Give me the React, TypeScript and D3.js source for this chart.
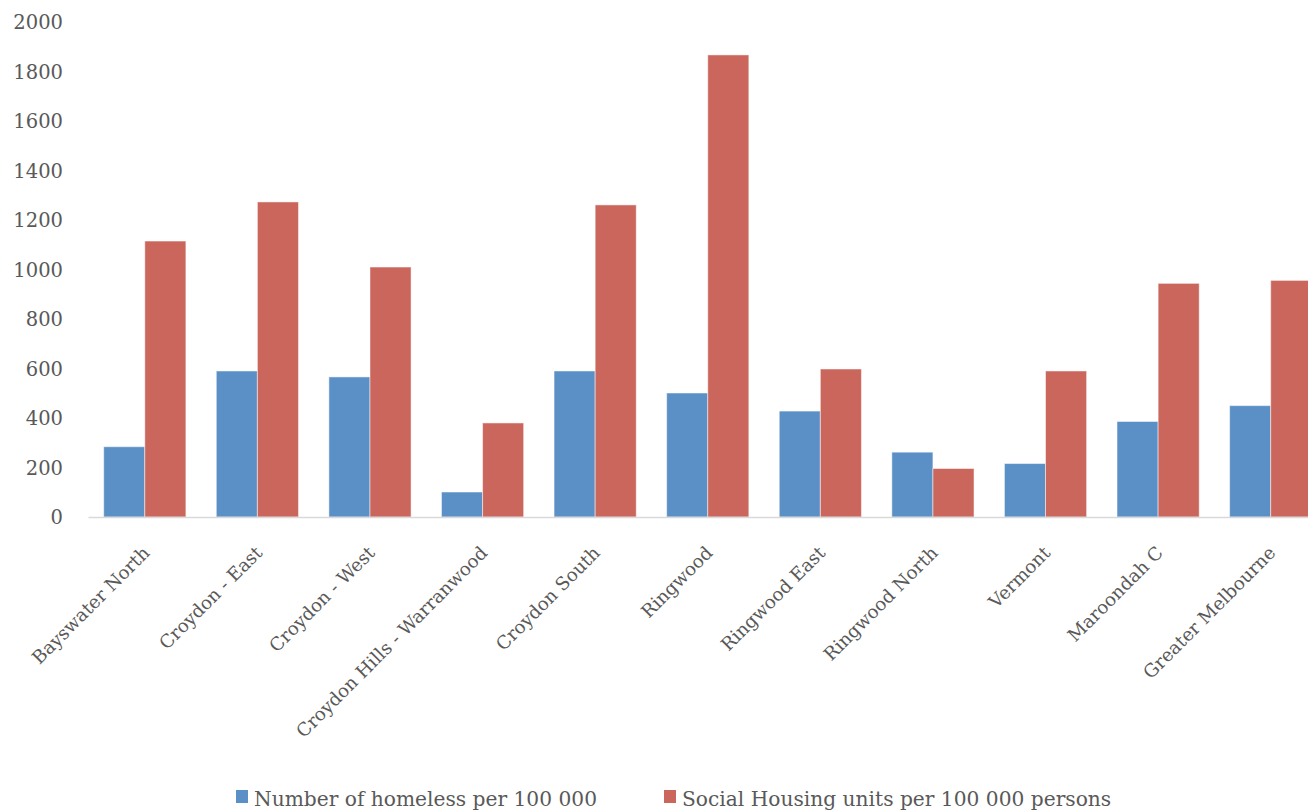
import React from "react";
import * as d3 from "d3";

const categories = [
  "Bayswater North",
  "Croydon - East",
  "Croydon - West",
  "Croydon Hills - Warranwood",
  "Croydon South",
  "Ringwood",
  "Ringwood East",
  "Ringwood North",
  "Vermont",
  "Maroondah C",
  "Greater Melbourne",
];
const homeless = [284, 590, 566, 101, 590, 501, 428, 262, 216, 386, 450];
const socialHousing = [1115, 1273, 1010, 380, 1261, 1867, 598, 196, 590, 944, 956];
const yTicks = [0, 200, 400, 600, 800, 1000, 1200, 1400, 1600, 1800, 2000];
const seriesNames = ["Number of homeless per 100 000", "Social Housing units per 100 000 persons"];
const seriesColors = ["#5B90C6", "#CA665C"];

const W = 1308;
const H = 811;
const FONT = "'DejaVu Serif', serif";
const TEXT = "#595959";

export default function App() {
  const plotLeft = 88.5;
  const plotRight = 1327;
  const y0 = 517;
  const yTop = 22;
  const x = d3.scaleBand<string>().domain(categories).range([plotLeft, plotRight]).paddingInner(0.27).paddingOuter(0.135);
  const y = d3.scaleLinear().domain([0, 2000]).range([y0, yTop]);
  const bw = x.bandwidth() / 2;
  const series = [homeless, socialHousing];

  return (
    <svg width={W} height={H} style={{ position: "absolute", left: 0, top: 0, background: "#fff" }} fontFamily={FONT}>
      <rect x={0} y={0} width={W} height={H} fill="#fff" />
      {yTicks.map((t) => (
        <text key={t} x={63} y={y(t)} dy="0.36em" textAnchor="end" fontSize={19.5} fill={TEXT}>
          {t}
        </text>
      ))}
      {series.map((vals, si) =>
        vals.map((v, i) => (
          <rect
            key={si + "-" + i}
            x={(x(categories[i]) as number) + si * bw}
            y={y(v)}
            width={bw}
            height={y(0) - y(v)}
            fill={seriesColors[si]}
            stroke="rgba(255,255,255,0.5)"
            strokeWidth={1}
          />
        ))
      )}
      <line x1={plotLeft} x2={plotRight} y1={y0 + 0.5} y2={y0 + 0.5} stroke="#D9D9D9" strokeWidth={1.5} />
      {categories.map((c) => {
        const cx = (x(c) as number) + x.bandwidth() / 2 + 6;
        const cy = y0 + 37;
        return (
          <text key={c} transform={`translate(${cx},${cy}) rotate(-45)`} textAnchor="end" fontSize={18.2} fill={TEXT}>
            {c}
          </text>
        );
      })}
      {seriesNames.map((n, i) => {
        const lx = i === 0 ? 236 : 664;
        return (
          <g key={n}>
            <rect x={lx} y={790} width={12} height={13} fill={seriesColors[i]} />
            <text x={lx + 18} y={806} fontSize={20.2} fill={TEXT}>
              {n}
            </text>
          </g>
        );
      })}
    </svg>
  );
}
